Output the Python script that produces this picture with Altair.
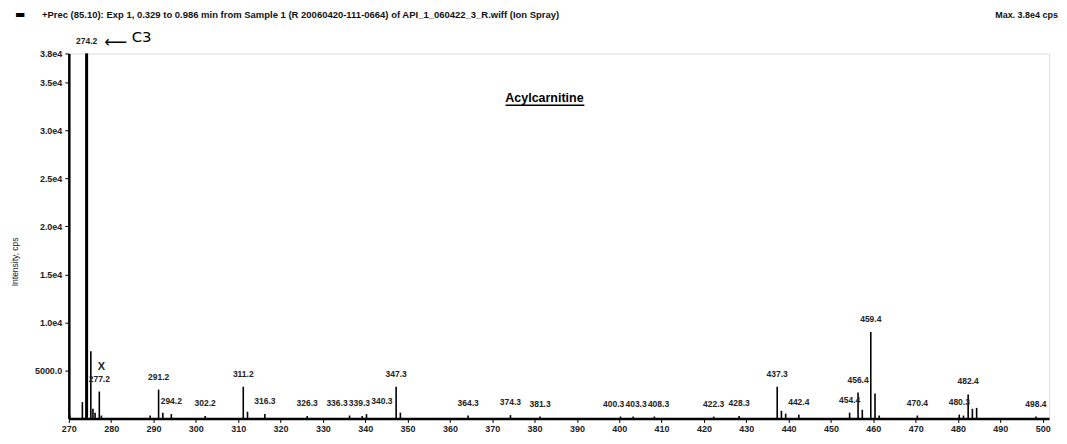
import altair as alt
import pandas as pd

# Peak list: m/z and intensity (cps)
mz = [270.2, 273.2, 274.2, 275.2, 275.7, 276.2, 277.2, 277.7, 289.2, 291.2, 292.2,
      294.2, 302.2, 311.2, 312.2, 316.3, 326.3, 336.3, 339.3, 340.3, 347.3, 348.3,
      364.3, 374.3, 381.3, 400.3, 403.3, 408.3, 422.3, 428.3, 437.3, 438.3, 439.3,
      442.4, 454.4, 456.4, 457.4, 459.4, 460.4, 461.4, 470.4, 480.3, 481.3, 482.4,
      483.4, 484.4, 498.4]
intensity = [350, 1700, 38000, 7000, 1000, 600, 2800, 300, 300, 3000, 600,
             450, 250, 3300, 700, 450, 250, 300, 250, 450, 3300, 600,
             300, 350, 200, 200, 200, 200, 200, 250, 3300, 800, 500,
             400, 600, 2700, 900, 9000, 2600, 300, 300, 400, 300, 2500,
             1000, 1100, 200]
labelled = [False, False, True, False, False, False, True, False, False, True, False,
            True, True, True, False, True, True, True, True, True, True, False,
            True, True, True, True, True, True, True, True, True, False, False,
            True, True, True, False, True, False, False, True, True, False, True,
            False, False, True]

y_ticks = [5000, 10000, 15000, 20000, 25000, 30000, 35000, 38000]
x_ticks = list(range(270, 510, 10))

header = "+Prec (85.10): Exp 1, 0.329 to 0.986 min from Sample 1 (R 20060420-111-0664) of API_1_060422_3_R.wiff (Ion Spray)"
max_text = "Max. 3.8e4 cps"
annotation = "Acylcarnitine"

df = pd.DataFrame({"mz": mz, "intensity": intensity, "labelled": labelled})
df["label"] = [f"{m:.1f}" for m in mz]
lab = df[df["labelled"]].copy().sort_values("mz").reset_index(drop=True)

# simple label de-cluttering for the labels sitting near the baseline
lab["lx"] = lab["mz"].astype(float)
small = lab.index[lab["intensity"] < 1500].tolist()
MIN_GAP = 5.3
for _ in range(200):
    moved = False
    for a, b in zip(small[:-1], small[1:]):
        gap = lab.at[b, "lx"] - lab.at[a, "lx"]
        if gap < MIN_GAP - 1e-6:
            s = (MIN_GAP - gap) / 2
            lab.at[a, "lx"] -= s
            lab.at[b, "lx"] += s
            moved = True
    if not moved:
        break

FONT = "Liberation Sans"
W, H = 983, 366

x_scale = alt.Scale(domain=[270, 501.5], nice=False, zero=False)
y_scale = alt.Scale(domain=[0, 38000], nice=False)

base = alt.Chart(df)

bars = base.mark_rule(color="black", strokeWidth=1.6).encode(
    x=alt.X("mz:Q", scale=x_scale,
            axis=alt.Axis(values=x_ticks, title=None, grid=False, domainColor="black",
                          domainWidth=2.5, tickColor="black", tickSize=4, tickWidth=1,
                          labelFont=FONT, labelFontSize=9, labelFontWeight="bold",
                          labelColor="#222", labelPadding=2, labelFlush=False)),
    y=alt.Y("intensity:Q", scale=y_scale,
            axis=alt.Axis(values=y_ticks, title=None, grid=False, domainColor="black",
                          domainWidth=2.5, tickColor="black", tickSize=4, tickWidth=1,
                          labelFont=FONT, labelFontSize=9, labelFontWeight="bold",
                          labelColor="#222", labelPadding=3, labelFlush=False,
                          labelExpr="datum.value == 5000 ? '5000.0' : format(datum.value/10000, '.1f') + 'e4'")),
    y2=alt.datum(0),
)

main_peak = alt.Chart(df[df["intensity"] == max(intensity)]).mark_rule(
    color="black", strokeWidth=3).encode(
    x=alt.X("mz:Q", scale=x_scale), y=alt.Y("intensity:Q", scale=y_scale), y2=alt.datum(0))

labels = alt.Chart(lab).mark_text(font=FONT, fontSize=8.5, fontWeight="bold",
                                  color="#222", dy=-8, baseline="bottom").encode(
    x=alt.X("lx:Q", scale=x_scale), y=alt.Y("intensity:Q", scale=y_scale),
    text="label:N")

xmark = alt.Chart(df[df["mz"] == 277.2]).mark_text(font=FONT, fontSize=11, fontWeight="bold",
                                                   color="#222", dy=-20, dx=2,
                                                   baseline="bottom").encode(
    x=alt.X("mz:Q", scale=x_scale), y=alt.Y("intensity:Q", scale=y_scale),
    text=alt.value("X"))

head = alt.Chart(pd.DataFrame({"t": [header]})).mark_text(
    font=FONT, fontSize=9.5, fontWeight="bold", align="left", baseline="middle",
    color="#111").encode(x=alt.value(-27), y=alt.value(-39), text="t:N")

square = alt.Chart(pd.DataFrame({"t": ["\u25AC"]})).mark_text(
    font="DejaVu Sans", fontSize=11, align="left", baseline="middle", color="black").encode(
    x=alt.value(-54), y=alt.value(-39), text="t:N")

maxlab = alt.Chart(pd.DataFrame({"t": [max_text]})).mark_text(
    font=FONT, fontSize=9, fontWeight="bold", align="right", baseline="middle",
    color="#111").encode(x=alt.value(992), y=alt.value(-39), text="t:N")

ytitle = alt.Chart(pd.DataFrame({"t": ["Intensity, cps"]})).mark_text(
    font=FONT, fontSize=8.5, angle=270, align="center", baseline="middle",
    color="#222").encode(x=alt.value(-54), y=alt.value(209), text="t:N")

acyl = alt.Chart(pd.DataFrame({"t": [annotation]})).mark_text(
    font=FONT, fontSize=12.5, fontWeight="bold", align="center", baseline="middle",
    color="black").encode(x=alt.value(477), y=alt.value(45), text="t:N")

underline = alt.Chart(pd.DataFrame({"t": [annotation]})).mark_rule(
    color="black", strokeWidth=1.5).encode(
    x=alt.value(438), x2=alt.value(517), y=alt.value(52))

arrow = alt.Chart(pd.DataFrame({"t": ["\u27F5"]})).mark_text(
    font="DejaVu Sans", fontSize=16, align="center", baseline="middle",
    color="black").encode(x=alt.value(47), y=alt.value(-12), text="t:N")

c3 = alt.Chart(pd.DataFrame({"t": ["C3"]})).mark_text(
    font="DejaVu Sans", fontSize=15, align="center", baseline="middle",
    color="black").encode(x=alt.value(73), y=alt.value(-17), text="t:N")

chart = alt.layer(bars, main_peak, labels, xmark, head, square, maxlab, ytitle,
                  acyl, underline, arrow, c3).properties(
    width=W, height=H,
    autosize=alt.AutoSizeParams(type="none"),
    padding={"left": 61, "top": 45, "right": 10, "bottom": 20},
).configure_view(stroke=None).configure(background="white")

chart.save("out.html", embed_options={"renderer": "svg", "actions": False})
